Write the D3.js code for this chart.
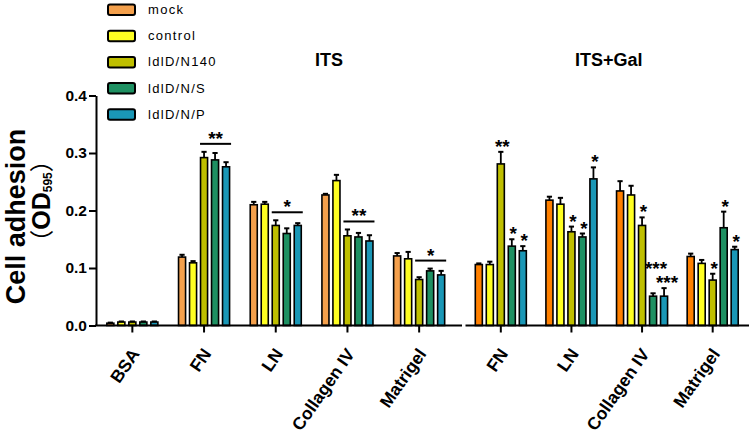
<!DOCTYPE html>
<html><head><meta charset="utf-8">
<script src="https://cdn.jsdelivr.net/npm/d3@7"></script>
<style>body{margin:0;background:#fff}svg{display:block}</style>
</head><body><svg id="c" width="753" height="441"></svg>
<script>
// ---------- data ----------
const series = ["mock", "control", "ldlD/N140", "ldlD/N/S", "ldlD/N/P"];
const itsCategories = ["BSA", "FN", "LN", "Collagen IV", "Matrigel"];
const galCategories = ["FN", "LN", "Collagen IV", "Matrigel"];
const yTicks = [0, 0.1, 0.2, 0.3, 0.4];
const panelTitles = ["ITS", "ITS+Gal"];

// ITS panel: mean and error (SEM) per series, ordered by itsCategories
const itsMock    = [0.004, 0.119, 0.210, 0.227, 0.121];
const itsControl = [0.006, 0.109, 0.211, 0.252, 0.116];
const itsN140    = [0.006, 0.292, 0.174, 0.156, 0.080];
const itsNS      = [0.006, 0.288, 0.160, 0.154, 0.095];
const itsNP      = [0.006, 0.276, 0.174, 0.147, 0.088];
const itsMockErr    = [0.001, 0.004, 0.005, 0.002, 0.005];
const itsControlErr = [0.001, 0.003, 0.004, 0.010, 0.012];
const itsN140Err    = [0.001, 0.010, 0.009, 0.011, 0.004];
const itsNSErr      = [0.001, 0.012, 0.009, 0.007, 0.004];
const itsNPErr      = [0.001, 0.008, 0.004, 0.010, 0.007];
// significance bars over ldlD groups in ITS panel
const itsSig = ["", "**", "*", "**", "*"];

// ITS+Gal panel, ordered by galCategories
const galMock    = [0.106, 0.218, 0.234, 0.120];
const galControl = [0.106, 0.211, 0.227, 0.108];
const galN140    = [0.281, 0.163, 0.174, 0.079];
const galNS      = [0.138, 0.154, 0.051, 0.170];
const galNP      = [0.130, 0.255, 0.051, 0.132];
const galMockErr    = [0.002, 0.006, 0.017, 0.005];
const galControlErr = [0.005, 0.011, 0.016, 0.006];
const galN140Err    = [0.021, 0.009, 0.014, 0.011];
const galNSErr      = [0.012, 0.006, 0.005, 0.028];
const galNPErr      = [0.008, 0.020, 0.014, 0.005];
const galMockSig    = ["", "", "", ""];
const galControlSig = ["", "", "", ""];
const galN140Sig    = ["**", "*", "*", "*"];
const galNSSig      = ["*", "*", "***", "*"];
const galNPSig      = ["*", "*", "***", "*"];

// ---------- style ----------
const FONT = "'Liberation Sans', Arial, sans-serif";
const itsColors = ["#F4A04C", "#FFFF22", "#BFBF00", "#1E9062", "#1A97B6"];
const galColors = ["#FF8000", "#FFFF22", "#BFBF00", "#1E9062", "#1A97B6"];

const svg = d3.select("#c");
const y = d3.scaleLinear().domain([0, 0.4]).range([325.5, 95.5]);
const xIts = d3.scaleBand().domain(itsCategories).range([96.5, 455]);
const xGal = d3.scaleBand().domain(galCategories).range([465.5, 748]);
const inner = d3.scaleBand().domain(series).range([-27.5, 27.5]).paddingInner(0.36).paddingOuter(0.18);

function buildRows(cats, means, errs, sigs) {
  const rows = [];
  cats.forEach((c, ci) => {
    series.forEach((s, si) => {
      rows.push({cat: c, s, si, v: means[si][ci], e: errs[si][ci], sig: sigs ? sigs[si][ci] : ""});
    });
  });
  return rows;
}
const itsRows = buildRows(itsCategories,
  [itsMock, itsControl, itsN140, itsNS, itsNP],
  [itsMockErr, itsControlErr, itsN140Err, itsNSErr, itsNPErr], null);
const galRows = buildRows(galCategories,
  [galMock, galControl, galN140, galNS, galNP],
  [galMockErr, galControlErr, galN140Err, galNSErr, galNPErr],
  [galMockSig, galControlSig, galN140Sig, galNSSig, galNPSig]);

function drawBars(rows, x, colors) {
  const g = svg.append("g");
  const bw = inner.bandwidth();
  const cx = d => x(d.cat) + x.bandwidth() / 2 + inner(d.s) + bw / 2;
  g.selectAll("line.err").data(rows).join("line")
    .attr("x1", cx).attr("x2", cx)
    .attr("y1", d => y(d.v)).attr("y2", d => y(d.v + d.e))
    .attr("stroke", "#000").attr("stroke-width", 1.8);
  g.selectAll("line.cap").data(rows).join("line")
    .attr("x1", d => cx(d) - 2.6).attr("x2", d => cx(d) + 2.6)
    .attr("y1", d => y(d.v + d.e)).attr("y2", d => y(d.v + d.e))
    .attr("stroke", "#000").attr("stroke-width", 2);
  g.selectAll("rect").data(rows).join("rect")
    .attr("x", d => cx(d) - bw / 2).attr("width", bw)
    .attr("y", d => y(d.v)).attr("height", d => y(0) - y(d.v))
    .attr("fill", d => colors[d.si]).attr("stroke", "#000").attr("stroke-width", 1.6);
  return cx;
}

const cxIts = drawBars(itsRows, xIts, itsColors);
const cxGal = drawBars(galRows, xGal, galColors);

// ---------- axes ----------
const yAxis = svg.append("g").attr("transform", "translate(96,0)")
  .call(d3.axisLeft(y).tickValues(yTicks).tickFormat(d3.format(".1f")).tickSize(7).tickPadding(2).tickSizeOuter(0));
yAxis.select(".domain").attr("stroke-width", 2);
yAxis.selectAll(".tick line").attr("stroke-width", 2);
yAxis.selectAll("text").attr("font-family", FONT).attr("font-weight", "bold").attr("font-size", 15.5).attr("fill", "#000");

function xAxis(x, x0, x1) {
  const g = svg.append("g").attr("transform", `translate(0,${y(0)})`)
    .call(d3.axisBottom(x).tickSize(7).tickSizeOuter(0).tickFormat(""));
  g.select(".domain").remove();
  g.append("line").attr("x1", x0).attr("x2", x1).attr("stroke", "#000").attr("stroke-width", 2.2);
  g.selectAll(".tick line").attr("stroke-width", 2);
  svg.append("g").selectAll("text").data(x.domain()).join("text")
    .attr("transform", d => `translate(${x(d) + x.bandwidth() / 2 + 3},${y(0) + 25}) rotate(-55)`)
    .attr("text-anchor", "end").attr("dy", "0.35em")
    .attr("font-family", FONT).attr("font-weight", "bold").attr("font-size", 17.5)
    .text(d => d);
}
xAxis(xIts, 95, xIts.range()[1] + 7);
xAxis(xGal, xGal.range()[0], xGal.range()[1] + 1);

// ---------- significance ----------
const STAR = 19;
itsCategories.forEach((c, ci) => {
  if (!itsSig[ci]) return;
  const grp = itsRows.filter(d => d.cat === c && d.si >= 2);
  const ly = d3.min(grp, d => y(d.v + d.e)) - 8;
  const xa = cxIts(grp[0]) - inner.bandwidth() / 2 - 0.5;
  const xb = cxIts(grp[grp.length - 1]) + inner.bandwidth() / 2 + 1.5;
  svg.append("line").attr("x1", xa).attr("x2", xb).attr("y1", ly).attr("y2", ly)
    .attr("stroke", "#000").attr("stroke-width", 2);
  svg.append("text").attr("x", (xa + xb) / 2).attr("y", ly + 1).attr("text-anchor", "middle")
    .attr("font-family", FONT).attr("font-weight", "bold").attr("font-size", STAR).text(itsSig[ci]);
});
const placed = [];
galRows.filter(d => d.sig).slice().reverse().forEach(d => {
  const w = d.sig.length * 8;
  const xc = cxGal(d) + (d.sig.length > 2 ? 3 : 1.5);
  let base = y(d.v + d.e) + 1;
  placed.forEach(p => {
    if (Math.abs(p.x - xc) < (p.w + w) / 2 && base > p.base - 13) base = p.base - 14;
  });
  placed.push({x: xc, w, base});
  svg.append("text").attr("x", xc).attr("y", base).attr("text-anchor", "middle")
    .attr("font-family", FONT).attr("font-weight", "bold").attr("font-size", STAR).text(d.sig);
});

// ---------- titles ----------
svg.append("text").attr("x", 329).attr("y", 66).attr("text-anchor", "middle")
  .attr("font-family", FONT).attr("font-weight", "bold").attr("font-size", 18).text(panelTitles[0]);
svg.append("text").attr("x", (xGal.range()[0] + xGal.range()[1]) / 2 + 2).attr("y", 66).attr("text-anchor", "middle")
  .attr("font-family", FONT).attr("font-weight", "bold").attr("font-size", 18).text(panelTitles[1]);

// y title
const yt = svg.append("g");
yt.append("text").attr("transform", "translate(25,216.5) rotate(-90)").attr("text-anchor", "middle")
  .attr("font-family", FONT).attr("font-weight", "bold").attr("font-size", 27).text("Cell adhesion");
const t2 = yt.append("text").attr("transform", "translate(50,201) rotate(-90)").attr("text-anchor", "middle")
  .attr("font-family", FONT).attr("font-weight", "bold").attr("font-size", 25);
t2.append("tspan").attr("font-family", "'Noto Sans CJK SC'").attr("font-weight", "normal").attr("font-size", 24).text("（");
t2.append("tspan").text("OD");
t2.append("tspan").attr("font-size", 12).attr("dy", 2).text("595");
t2.append("tspan").attr("font-family", "'Noto Sans CJK SC'").attr("font-weight", "normal").attr("font-size", 24).attr("dy", -2).text("）");

// ---------- legend ----------
const lg = svg.append("g").selectAll("g").data(series).join("g")
  .attr("transform", (d, i) => `translate(108,${9.5 + i * 26.2})`);
lg.append("rect").attr("x", 0).attr("y", -5).attr("width", 27).attr("height", 10.5).attr("rx", 2)
  .attr("fill", (d, i) => itsColors[i]).attr("stroke", "#000").attr("stroke-width", 2);
lg.append("text").attr("x", 40).attr("dy", "0.35em").attr("font-family", FONT).attr("font-size", 13)
  .attr("letter-spacing", 1.3).text(d => d);
</script></body></html>
